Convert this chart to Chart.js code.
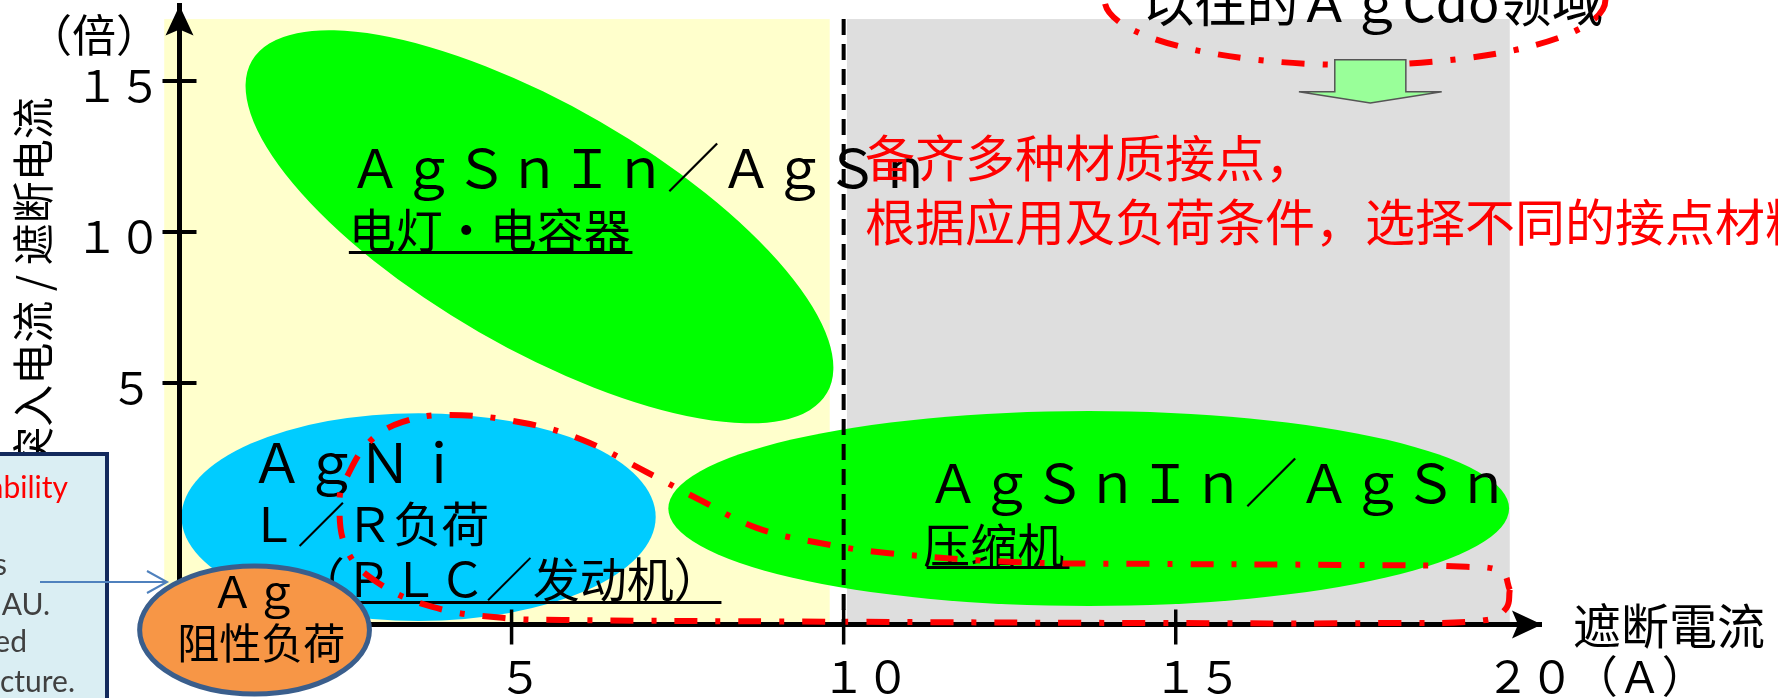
<!DOCTYPE html>
<html lang="zh">
<head>
<meta charset="utf-8">
<title>接点材质选择</title>
<script src="https://cdn.jsdelivr.net/npm/chart.js@4.4.1/dist/chart.umd.min.js"></script>
<style>
  html, body { margin: 0; padding: 0; background: #fff; overflow: hidden; }
  #wrap { width: 1778px; height: 698px; position: relative; }
</style>
</head>
<body>
<div id="wrap"><canvas id="chart"></canvas></div>
<script>
// axis ticks: breaking current (A) and inrush / breaking ratio
const xTicks = [5, 10, 15, 20];
const xTickLabels = ['\u2009５', '１０', '１５', '２０（Ａ）'];
const yTicks = [5, 10, 15];
const yTickLabels = ['５\u2009', '１０', '１５'];

// load classes: below and above 10 A
const zoneFrom = [-0.23, 10.05];
const zoneTo = [9.79, 20.03];
const zoneTop = 17.05;

// contact material regions: centre, half extents (A, ratio) and tilt in degrees
const regionNames = ['ＡｇＳｎＩｎ／ＡｇＳｎ', 'ＡｇＳｎＩｎ／ＡｇＳｎ', 'ＡｇＮｉ', 'Ａｇ'];
const regionCx = [5.42, 13.69, 3.6, 1.13];
const regionCy = [10.17, 0.84, 0.56, -3.18];
const regionRx = [5.0, 6.33, 3.57, 1.73];
const regionRy = [4.02, 3.23, 3.44, 2.12];
const regionTilt = [30, 0, 0, 0];

// outline of the former AgCdO range
const cdoEdgeX = [20.03, 19.98, 19.68, 18.22, 14.6, 10.2, 5.77, 4.86, 3.81, 2.97, 2.52, 2.41, 2.52, 2.86, 3.36,
  4.07, 5.17, 6.07, 7.03, 7.83, 8.69, 9.64, 10.65, 12.55, 14.56, 17.62, 19.38, 19.91, 20.03];
const cdoEdgeY = [-1.85, -2.45, -2.85, -2.95, -2.95, -2.91, -2.85, -2.78, -2.42, -1.59, -0.53, 1.13, 1.89, 3.05, 3.71,
  3.94, 3.68, 3.11, 2.05, 1.13, 0.2, -0.3, -0.63, -0.93, -0.99, -1.03, -1.09, -1.26, -1.85];

// the old AgCdO area at the top right
const legacyZone = [17.7, 17.68, 3.77, 2.15];

const CJK = '"Noto Sans CJK SC", "Noto Sans CJK JP", sans-serif';
const zoneColors = ['#FFFFCC', '#DEDEDE'];
const regionColors = ['#00FF00', '#00FF00', '#00CCFF', '#F79646'];
const redDash = [23, 18, 5, 18];

// texts placed in axis units
const notes = [
  { t: regionNames[0], x: 2.55, y: 11.46, size: 53 },
  { t: '电灯・电容器', x: 2.55, y: 9.47, size: 47, under: [2.55, 6.82, 9.34] },
  { t: regionNames[2], x: 1.06, y: 1.69, size: 54 },
  { t: 'Ｌ／Ｒ负荷', x: 1.05, y: -0.26, size: 48 },
  { t: '（ＰＬＣ／发动机）', x: 1.78, y: -2.09, size: 47, under: [2.6, 8.16, -2.25] },
  { t: regionNames[1], x: 11.25, y: 1.03, size: 53 },
  { t: '压缩机', x: 11.2, y: -0.96, size: 47, under: [11.25, 13.4, -1.09] }
];
const agNotes = [
  { t: regionNames[3], x: 1.13, y: -2.45, size: 44 },
  { t: '阻性负荷', x: 1.23, y: -4.14, size: 42 }
];
const redNotes = [
  { t: '备齐多种材质接点，', x: 10.32, y: 11.82, size: 50 },
  { t: '根据应用及负荷条件，选择不同的接点材料。', x: 10.32, y: 9.7, size: 50 }
];
const legacyNote = { t: '以往的ＡｇCdo领域', x: 14.5, y: 16.95, size: 52 };
const shiftArrow = { x: 17.93, top: 15.7, neck: 14.64, tip: 14.27, shaft: 0.535, head: 1.075 };

function ellipsePath(ctx, chart, i) {
  const { x, y } = chart.scales;
  const cx = x.getPixelForValue(regionCx[i]);
  const cy = y.getPixelForValue(regionCy[i]);
  const rx = Math.abs(x.getPixelForValue(regionCx[i] + regionRx[i]) - cx);
  const ry = Math.abs(y.getPixelForValue(regionCy[i] + regionRy[i]) - cy);
  ctx.beginPath();
  ctx.ellipse(cx, cy, rx, ry, regionTilt[i] * Math.PI / 180, 0, Math.PI * 2);
}

function drawNote(ctx, chart, n, color, align) {
  const { x, y } = chart.scales;
  ctx.font = n.size + 'px ' + CJK;
  ctx.fillStyle = color;
  ctx.textAlign = align || 'left';
  ctx.textBaseline = 'alphabetic';
  ctx.fillText(n.t, x.getPixelForValue(n.x), y.getPixelForValue(n.y));
  if (n.under) {
    const uy = Math.round(y.getPixelForValue(n.under[2])) + 0.5;
    ctx.strokeStyle = color;
    ctx.lineWidth = 3;
    ctx.setLineDash([]);
    ctx.beginPath();
    ctx.moveTo(x.getPixelForValue(n.under[0]), uy);
    ctx.lineTo(x.getPixelForValue(n.under[1]), uy);
    ctx.stroke();
  }
}

function arrowHead(ctx, tx, ty, dx, dy) {
  const len = 30, half = 14, notch = 6;
  const nx = -dy, ny = dx;
  ctx.beginPath();
  ctx.moveTo(tx, ty);
  ctx.lineTo(tx - dx * len + nx * half, ty - dy * len + ny * half);
  ctx.lineTo(tx - dx * (len - notch), ty - dy * (len - notch));
  ctx.lineTo(tx - dx * len - nx * half, ty - dy * len - ny * half);
  ctx.closePath();
  ctx.fill();
}

// keep the plot box fixed: axis sizes set by hand, no label overhang padding
function fixBox(size) {
  return s => {
    if (s.isHorizontal()) s.height = size; else s.width = size;
    s.paddingTop = 0; s.paddingBottom = 0; s.paddingLeft = 0; s.paddingRight = 0;
  };
}

const materialMap = {
  id: 'materialMap',
  beforeDraw(chart) {
    const { ctx, chartArea, scales: { x, y } } = chart;
    ctx.save();
    const top = y.getPixelForValue(zoneTop);
    zoneFrom.forEach((from, i) => {
      const left = x.getPixelForValue(from);
      const right = x.getPixelForValue(zoneTo[i]);
      ctx.fillStyle = zoneColors[i];
      ctx.fillRect(left, top, right - left, chartArea.bottom - top);
    });
    // AgSnIn and AgNi regions sit under the axes
    for (let i = 0; i < 3; i++) {
      ellipsePath(ctx, chart, i);
      ctx.fillStyle = regionColors[i];
      ctx.fill();
    }
    // 10 A divider
    const x10 = x.getPixelForValue(10);
    ctx.strokeStyle = '#000';
    ctx.lineWidth = 4;
    ctx.setLineDash([16, 9]);
    ctx.beginPath();
    ctx.moveTo(x10, top);
    ctx.lineTo(x10, chartArea.bottom);
    ctx.stroke();
    ctx.restore();
  },
  beforeDatasetsDraw(chart) {
    const ctx = chart.ctx;
    ctx.save();
    notes.forEach(n => drawNote(ctx, chart, n, '#000'));
    ctx.restore();
  },
  afterDraw(chart) {
    const { ctx, chartArea, scales: { x, y } } = chart;
    const x0 = chartArea.left, y0 = chartArea.bottom;
    ctx.save();
    ctx.setLineDash([]);
    ctx.strokeStyle = '#000';
    ctx.fillStyle = '#000';

    // tick marks across the axes (no mark at 20 A, only its label)
    ctx.lineWidth = 4;
    yTicks.forEach(v => {
      const p = y.getPixelForValue(v);
      ctx.beginPath(); ctx.moveTo(x0 - 17, p); ctx.lineTo(x0 + 17, p); ctx.stroke();
    });
    ctx.lineWidth = 3.5;
    xTicks.slice(0, -1).forEach(v => {
      const p = x.getPixelForValue(v);
      ctx.beginPath(); ctx.moveTo(p, y0 - 15); ctx.lineTo(p, y0 + 20); ctx.stroke();
    });
    arrowHead(ctx, x0, chartArea.top, 0, -1);
    arrowHead(ctx, chartArea.right + 1, y0, 1, 0);

    // axis titles
    ctx.font = '48px ' + CJK;
    ctx.textAlign = 'left';
    ctx.textBaseline = 'middle';
    ctx.fillText('遮断電流', chartArea.right + 32, y0 + 1);
    ctx.font = '44px ' + CJK;
    ctx.textAlign = 'center';
    ctx.fillText('（倍）', 94, 35);
    ctx.save();
    ctx.translate(33, 283);
    ctx.rotate(-Math.PI / 2);
    ctx.font = '42px ' + CJK;
    ctx.fillText('突入电流 / 遮断电流', 0, 0);
    ctx.restore();

    // Ag region, drawn over the axes
    ellipsePath(ctx, chart, 3);
    ctx.fillStyle = regionColors[3];
    ctx.fill();
    ctx.lineWidth = 5;
    ctx.strokeStyle = '#3A5E8C';
    ctx.stroke();
    agNotes.forEach(n => drawNote(ctx, chart, n, '#000', 'center'));

    // side note box
    ctx.fillStyle = '#DAEEF3';
    ctx.fillRect(-10, 454, 117, 260);
    ctx.strokeStyle = '#132A5C';
    ctx.lineWidth = 4;
    ctx.strokeRect(-10, 454, 117, 260);
    ctx.font = '30px Lato, "Open Sans", sans-serif';
    ctx.textAlign = 'right';
    ctx.textBaseline = 'alphabetic';
    ctx.fillStyle = '#FF0000';
    ctx.fillText('Reliability', 68, 498);
    ctx.fillStyle = '#404040';
    ctx.fillText('Contacts', 7, 575);
    ctx.fillText('by AU.', 50, 615);
    ctx.fillText('Developed', 27, 652);
    ctx.fillText('Structure.', 75, 692);
    ctx.strokeStyle = '#4F81BD';
    ctx.lineWidth = 2;
    ctx.beginPath();
    ctx.moveTo(40, 582); ctx.lineTo(167, 582);
    ctx.moveTo(147, 571); ctx.lineTo(167, 582); ctx.lineTo(147, 593);
    ctx.stroke();

    // former AgCdO area
    const lx = x.getPixelForValue(legacyZone[0]);
    const ly = y.getPixelForValue(legacyZone[1]);
    const lrx = Math.abs(x.getPixelForValue(legacyZone[0] + legacyZone[2]) - lx);
    const lry = Math.abs(y.getPixelForValue(legacyZone[1] + legacyZone[3]) - ly);
    ctx.strokeStyle = '#FF0000';
    ctx.lineWidth = 6;
    ctx.setLineDash(redDash);
    ctx.beginPath();
    ctx.ellipse(lx, ly, lrx, lry, 0, 0, Math.PI * 2);
    ctx.stroke();
    ctx.setLineDash([]);
    drawNote(ctx, chart, legacyNote, '#000');

    // block arrow pointing down
    const ax = x.getPixelForValue(shiftArrow.x);
    const sw = x.getPixelForValue(shiftArrow.x + shiftArrow.shaft) - ax;
    const hw = x.getPixelForValue(shiftArrow.x + shiftArrow.head) - ax;
    const aTop = y.getPixelForValue(shiftArrow.top);
    const aNeck = y.getPixelForValue(shiftArrow.neck);
    const aTip = y.getPixelForValue(shiftArrow.tip);
    ctx.beginPath();
    ctx.moveTo(ax - sw, aTop);
    ctx.lineTo(ax + sw, aTop);
    ctx.lineTo(ax + sw, aNeck);
    ctx.lineTo(ax + hw, aNeck);
    ctx.lineTo(ax, aTip);
    ctx.lineTo(ax - hw, aNeck);
    ctx.lineTo(ax - sw, aNeck);
    ctx.closePath();
    ctx.fillStyle = '#99FF99';
    ctx.fill();
    ctx.strokeStyle = '#555';
    ctx.lineWidth = 1.5;
    ctx.stroke();

    redNotes.forEach(n => drawNote(ctx, chart, n, '#FF0000'));
    ctx.restore();
  }
};

new Chart(document.getElementById('chart'), {
  type: 'scatter',
  data: {
    datasets: [{
      label: 'AgCdO',
      data: cdoEdgeX.map((v, i) => ({ x: v, y: cdoEdgeY[i] })),
      showLine: true,
      tension: 0.4,
      borderColor: '#FF0000',
      borderWidth: 6,
      borderDash: redDash,
      pointRadius: 0,
      fill: false,
      clip: false
    }]
  },
  options: {
    responsive: true,
    maintainAspectRatio: false,
    animation: false,
    events: [],
    layout: { padding: { left: 0, right: 237, top: 5.5, bottom: 0 } },
    plugins: { legend: { display: false }, tooltip: { enabled: false } },
    scales: {
      x: {
        type: 'linear',
        min: 0,
        max: 20.5,
        afterFit: fixBox(73.5),
        afterBuildTicks: s => { s.ticks = xTicks.map(v => ({ value: v })); },
        grid: { display: false },
        border: { display: true, color: '#000', width: 5 },
        ticks: {
          autoSkip: false,
          maxRotation: 0,
          align: 'start',
          labelOffset: -22,
          padding: 17,
          color: '#000',
          font: { family: CJK, size: 44 },
          callback: (v, i) => xTickLabels[i]
        }
      },
      y: {
        type: 'linear',
        min: -3,
        max: 17.5,
        afterFit: fixBox(179.5),
        afterBuildTicks: s => { s.ticks = yTicks.map(v => ({ value: v })); },
        grid: { display: false },
        border: { display: true, color: '#000', width: 5 },
        ticks: {
          autoSkip: false,
          padding: 10,
          labelOffset: 5,
          color: '#000',
          font: { family: CJK, size: 43 },
          callback: (v, i) => yTickLabels[i]
        }
      }
    }
  },
  plugins: [materialMap]
});
</script>
</body>
</html>
